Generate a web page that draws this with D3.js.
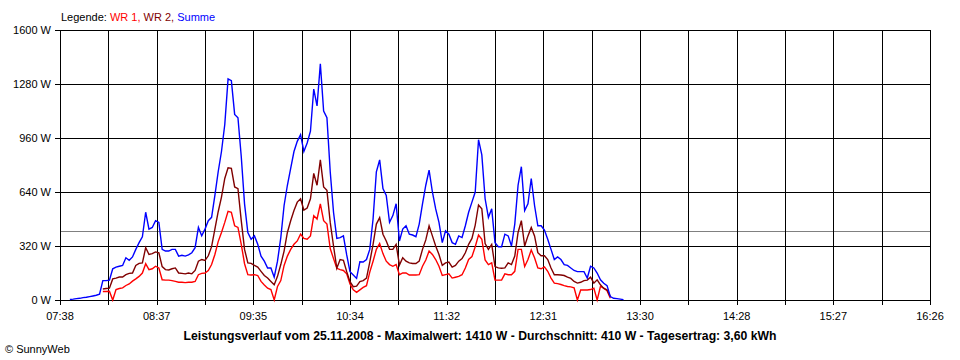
<!DOCTYPE html>
<html><head><meta charset="utf-8">
<script src="https://cdn.jsdelivr.net/npm/d3@7"></script>
<style>
body{margin:0;background:#fff}
text{font-family:"Liberation Sans",Arial,sans-serif;font-size:11px;fill:#000}
</style>
</head><body>
<svg id="c" width="960" height="360"></svg>
<script>
// sampling grid of the series
const startTime = "07:44";
const stepMinutes = 2;

// Summe (blue)
const summe = [
  3,5,8,10,14,16,20,24,28,35,
  115,115,118,185,195,200,205,250,235,255,
  300,340,375,520,420,430,470,460,300,290,
  290,300,300,260,265,260,268,280,310,430,
  380,420,470,490,620,760,880,1040,1310,1300,
  1100,1080,850,570,400,360,380,330,260,230,
  190,190,135,230,370,560,680,780,880,940,
  980,880,930,1000,1250,1150,1400,1120,1080,760,
  520,365,370,380,267,168,148,128,227,225,
  240,300,480,760,830,660,620,460,500,570,
  350,420,440,390,385,375,450,570,680,770,
  640,540,460,340,410,390,340,330,380,370,
  440,520,580,640,950,860,600,490,540,340,
  316,316,390,380,320,450,680,790,530,570,
  720,560,440,440,415,360,300,240,255,240,
  210,205,190,175,168,168,168,130,200,190,
  160,120,99,85,20,10,8,5,2
];
// WR 2 (dark red)
const wr2 = [
  null,null,null,null,null,null,null,null,null,null,
  65,68,70,125,130,136,136,150,158,160,
  205,217,220,310,270,275,285,280,198,180,
  178,185,190,160,158,155,160,155,175,230,
  240,235,262,316,420,523,610,720,784,780,
  670,660,470,300,220,217,205,195,170,145,
  130,110,90,140,210,290,400,470,530,580,
  600,533,545,600,750,680,830,670,650,460,
  320,188,240,235,168,109,79,82,109,115,
  130,225,330,450,488,390,350,300,300,330,
  207,250,230,220,216,216,230,300,356,440,
  380,320,270,205,220,225,195,205,230,245,
  280,330,365,444,563,540,335,300,330,198,
  190,188,190,220,210,260,400,470,320,380,
  430,380,280,262,262,240,190,150,150,148,
  145,135,128,110,100,105,115,118,135,100,
  120,90,69,60,20,null,null,null,null
];
// WR 1 (red)
const wr1 = [
  null,null,null,null,null,null,null,null,null,null,
  50,50,52,0,62,68,72,86,95,112,
  125,140,160,215,180,185,200,190,120,118,
  118,115,110,105,105,103,105,105,110,150,
  158,160,175,210,270,346,400,460,525,520,
  440,430,330,215,150,148,150,145,110,89,
  70,62,0,80,115,205,260,300,330,350,
  390,365,360,380,500,480,570,470,450,305,
  245,188,180,175,155,95,60,45,60,75,
  85,165,230,300,335,275,230,210,200,210,
  150,160,160,148,148,148,150,200,237,290,
  270,240,200,145,150,155,130,135,140,150,
  190,240,257,316,385,360,237,210,220,118,
  118,118,155,150,150,170,300,300,198,240,
  296,250,190,185,196,170,130,100,97,92,
  85,80,78,72,0,59,59,59,62,70,
  0,80,70,55,10,null,null,null,null
];

const yTicks = [0, 320, 640, 960, 1280, 1600];
const xTickLabels = ["07:38","08:37","09:35","10:34","11:32","12:31","13:30","14:28","15:27","16:26"];
const average = 410;
const legendItems = [
  {label:"WR 1,", color:"#ff0000"},
  {label:"WR 2,", color:"#800000"},
  {label:"Summe", color:"#0000ff"}
];
const titleText = "Leistungsverlauf vom 25.11.2008 - Maximalwert: 1410 W - Durchschnitt: 410 W - Tagesertrag: 3,60 kWh";
const creditText = "© SunnyWeb";

const toMin = s => { const [h,m] = s.split(":").map(Number); return h*60+m; };
const t0 = toMin(startTime);
const tStart = toMin(xTickLabels[0]), tEnd = toMin(xTickLabels[xTickLabels.length-1]);

const svg = d3.select("#c");
const L = 60, R = 930, T = 30, B = 300;
const x = d3.scaleLinear().domain([tStart, tEnd]).range([L, R]);
const y = d3.scaleLinear().domain([0, 1600]).range([B, T]);

const nGrid = (xTickLabels.length - 1) * 2;
const gridTimes = d3.range(nGrid + 1).map(i => tStart + i * (tEnd - tStart) / nGrid);
const px = v => Math.round(v) + 0.5;

// average line
svg.append("line").attr("x1", L).attr("x2", R)
  .attr("y1", px(y(average))).attr("y2", px(y(average)))
  .attr("stroke", "#808080").attr("stroke-width", 1).attr("shape-rendering","crispEdges");

// horizontal grid + left ticks
const gy = svg.append("g");
yTicks.forEach(v => {
  gy.append("line").attr("x1", L - 5).attr("x2", R)
    .attr("y1", px(y(v))).attr("y2", px(y(v)))
    .attr("stroke", "#000").attr("shape-rendering","crispEdges");
  gy.append("text").attr("x", L - 9).attr("y", y(v)).attr("dy", "0.35em")
    .attr("text-anchor", "end").text(v + " W");
});
// vertical grid + bottom ticks
const gx = svg.append("g");
gridTimes.forEach((t, i) => {
  gx.append("line").attr("x1", px(x(t))).attr("x2", px(x(t)))
    .attr("y1", T).attr("y2", B + 5)
    .attr("stroke", "#000").attr("shape-rendering","crispEdges");
  if (i % 2 === 0) {
    gx.append("text").attr("x", x(t)).attr("y", 320)
      .attr("text-anchor", "middle").text(xTickLabels[i / 2]);
  }
});

// series
const mk = arr => arr.map((v, i) => ({t: t0 + i * stepMinutes, v}));
const line = d3.line().defined(d => d.v !== null).x(d => x(d.t)).y(d => y(d.v));
[[wr1, "#ff0000"], [wr2, "#800000"], [summe, "#0000ff"]].forEach(([arr, col]) => {
  svg.append("path").datum(mk(arr)).attr("d", line)
    .attr("fill", "none").attr("stroke", col).attr("stroke-width", 1.4)
    .attr("stroke-linejoin", "miter");
});

// legend
const leg = svg.append("text").attr("x", 61).attr("y", 21);
leg.append("tspan").text("Legende: ");
legendItems.forEach((d, i) => {
  leg.append("tspan").style("fill", d.color).text(d.label + (i < legendItems.length - 1 ? " " : ""));
});

// title
const tt = svg.append("text").attr("x", 480).attr("y", 340).attr("text-anchor", "middle")
  .style("font-weight", "bold").style("font-size", "12px").text(titleText);
tt.attr("textLength", 593).attr("lengthAdjust", "spacingAndGlyphs");

svg.append("text").attr("x", 5).attr("y", 353).text(creditText);
</script>
</body></html>
